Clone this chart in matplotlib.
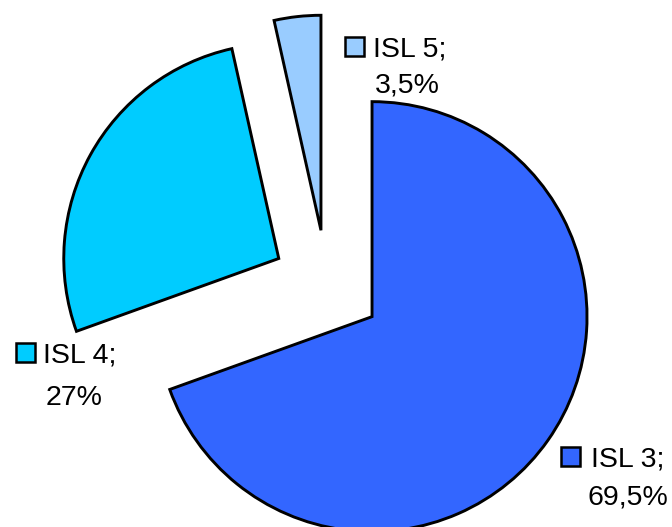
import matplotlib
matplotlib.use("Agg")
import matplotlib.pyplot as plt
from matplotlib.patches import Rectangle

plt.rcParams['font.family'] = ['Liberation Sans', 'DejaVu Sans']

categories = ["ISL 3", "ISL 4", "ISL 5"]
values = [69.5, 27.0, 3.5]
colors = ["#3366FF", "#00CCFF", "#99CCFF"]

W, H = 672, 527
fig = plt.figure(figsize=(W / 100, H / 100), dpi=100)
ax = fig.add_axes([0, 0, 1, 1])

R = 215
center = (327, H - 285)
ax.pie(values, colors=colors, startangle=90, counterclock=False,
       radius=R, center=center, explode=[0.256 * R] * 3, frame=True,
       wedgeprops=dict(edgecolor='black', linewidth=2.1))
ax.set_xlim(0, W)
ax.set_ylim(0, H)
ax.set_aspect('equal')
ax.axis('off')

def fmt(v):
    s = f"{v:g}".replace('.', ',')
    return s + "%"

# label layout: (square x, square bottom y, line1 center x, line1 baseline, line2 center x, line2 baseline)
layout = [
    (561, H - 466, 628, H - 466, 627.5, H - 504),
    (16, H - 362, 80, H - 362, 74, H - 405),
    (345, H - 56, 410, H - 57, 407, H - 93),
]
fs = 20.5
for cat, v, c, (sx, sy, x1, y1, x2, y2) in zip(categories, values, colors, layout):
    ax.add_patch(Rectangle((sx, sy), 19, 19, facecolor=c, edgecolor='black', linewidth=1.8))
    ax.text(x1, y1, cat + ";", ha='center', va='baseline', fontsize=fs, color='black')
    ax.text(x2, y2, fmt(v), ha='center', va='baseline', fontsize=fs, color='black')

fig.savefig("out.png", dpi=100)
